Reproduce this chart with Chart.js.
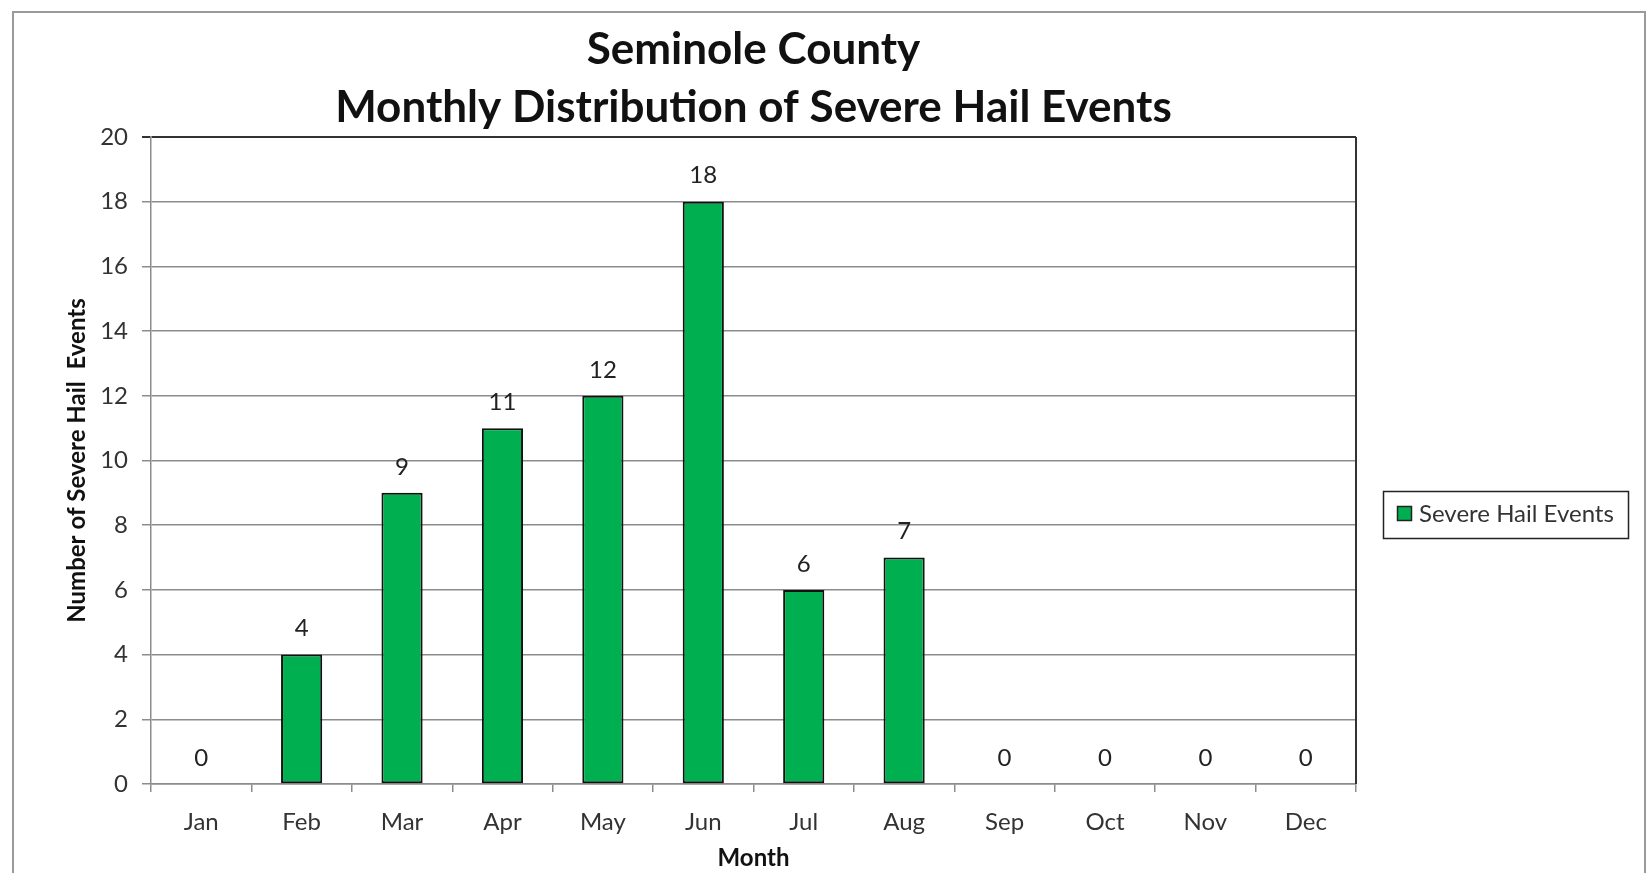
<!DOCTYPE html>
<html>
<head>
<meta charset="utf-8">
<script src="https://cdn.jsdelivr.net/npm/chart.js@4.4.1/dist/chart.umd.min.js"></script>
<style>
  html, body { margin: 0; padding: 0; background: #ffffff; }
  canvas { display: block; }
</style>
</head>
<body>
<canvas id="c" width="1647" height="873"></canvas>
<script>
const months = ['Jan','Feb','Mar','Apr','May','Jun','Jul','Aug','Sep','Oct','Nov','Dec'];
const hailEvents = [0, 4, 9, 11, 12, 18, 6, 7, 0, 0, 0, 0];
const seriesLabel = 'Severe Hail Events';
const titleLines = ['Seminole County', 'Monthly Distribution of Severe Hail Events'];
const yAxisTitle = 'Number of Severe Hail  Events';
const xAxisTitle = 'Month';
const yMin = 0, yMax = 20, yStep = 2;

const FONT = 'Lato, "Open Sans", sans-serif';
const GREEN = '#00B050';

const framePlugin = {
  id: 'frame',
  beforeDraw(chart) {
    const ctx = chart.ctx;
    ctx.save();
    ctx.fillStyle = '#ffffff';
    ctx.fillRect(0, 0, chart.width, chart.height);
    ctx.strokeStyle = '#9a9a9a';
    ctx.lineWidth = 2;
    ctx.strokeRect(13, 12, 1632, 880);
    ctx.restore();
  },
  afterDraw(chart) {
    const ctx = chart.ctx;
    const a = chart.chartArea;
    ctx.save();
    ctx.strokeStyle = '#333333';
    ctx.lineWidth = 2;
    ctx.beginPath();
    ctx.moveTo(a.right, a.top);
    ctx.lineTo(a.right, a.bottom);
    ctx.stroke();
    const ds = chart.data.datasets[0];
    ctx.fillStyle = '#ffffff';
    ctx.fillRect(1383, 491, 245, 47);
    ctx.strokeStyle = '#222222';
    ctx.lineWidth = 1.5;
    ctx.strokeRect(1383.5, 491.5, 245, 47);
    ctx.fillStyle = ds.backgroundColor;
    ctx.fillRect(1397, 506, 15, 15);
    ctx.strokeStyle = '#222222';
    ctx.lineWidth = 1.5;
    ctx.strokeRect(1397.5, 506.5, 14, 14);
    ctx.fillStyle = '#333333';
    ctx.font = '24px ' + FONT;
    ctx.textBaseline = 'middle';
    ctx.textAlign = 'left';
    ctx.fillText(ds.label, 1419, 514);
    ctx.restore();
  }
};

const valueLabels = {
  id: 'valueLabels',
  afterDatasetsDraw(chart) {
    const ctx = chart.ctx;
    const meta = chart.getDatasetMeta(0);
    const vals = chart.data.datasets[0].data;
    ctx.save();
    ctx.font = '24px ' + FONT;
    ctx.fillStyle = '#222222';
    ctx.textAlign = 'center';
    ctx.textBaseline = 'middle';
    meta.data.forEach((el, i) => {
      ctx.fillText(String(vals[i]), el.x, el.y - 26);
    });
    ctx.restore();
  }
};

new Chart(document.getElementById('c'), {
  type: 'bar',
  data: {
    labels: months,
    datasets: [{
      label: seriesLabel,
      data: hailEvents,
      backgroundColor: GREEN,
      borderColor: '#111111',
      borderWidth: 2,
      borderSkipped: false,
      categoryPercentage: 1.0,
      barPercentage: 0.41
    }]
  },
  options: {
    responsive: false,
    animation: false,
    devicePixelRatio: 1,
    layout: { padding: { left: 0, right: 291, top: 0, bottom: 0 } },
    plugins: {
      legend: { display: false },
      tooltip: { enabled: false },
      title: {
        display: true,
        text: titleLines,
        fullSize: false,
        color: '#111111',
        font: { family: FONT, size: 44, weight: 'bold', lineHeight: '58px' },
        padding: { top: 21, bottom: 0 }
      }
    },
    scales: {
      x: {
        offset: true,
        grid: { display: true, drawOnChartArea: false, drawTicks: true, tickLength: 8, color: '#8c8c8c', lineWidth: 1.5, offset: true },
        border: { display: true, color: '#8c8c8c', width: 1.5 },
        ticks: { color: '#333333', font: { family: FONT, size: 24 }, padding: 16, maxRotation: 0 },
        title: { display: true, text: xAxisTitle, color: '#111111', font: { family: FONT, size: 24, weight: 'bold', lineHeight: 1.2 }, padding: { top: 1, bottom: 0 } },
        afterFit(scale) { scale.height = 89; }
      },
      y: {
        min: yMin,
        max: yMax,
        grid: {
          color: (c) => (c.tick && c.tick.value === yMax ? '#333333' : '#8c8c8c'),
          lineWidth: (c) => (c.tick && c.tick.value === yMax ? 2 : 1.5),
          tickLength: 9,
          drawTicks: true
        },
        border: { display: true, color: '#8c8c8c', width: 1.5 },
        ticks: { stepSize: yStep, color: '#333333', font: { family: FONT, size: 24 }, padding: 14 },
        title: { display: true, text: yAxisTitle, color: '#111111', font: { family: FONT, size: 24, weight: 'bold', lineHeight: 1.2 }, padding: { top: 63, bottom: 0 } },
        afterFit(scale) { scale.width = 151; }
      }
    }
  },
  plugins: [framePlugin, valueLabels]
});
</script>
</body>
</html>
